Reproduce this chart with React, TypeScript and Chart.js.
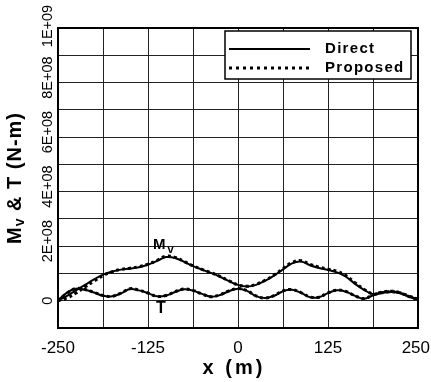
import React, { useEffect, useRef } from 'react';
import { Chart, registerables } from 'chart.js';

Chart.register(...registerables);

const FONT = "'Liberation Sans', Arial, sans-serif";
const UNIT = 1e8;

const xPositions = [
  -250, -237.5, -225, -212.5, -200, -187.5, -175, -162.5, -150, -137.5,
  -125, -112.5, -100, -87.5, -75, -62.5, -50, -37.5, -25, -12.5,
  0, 12.5, 25, 37.5, 50, 62.5, 75, 87.5, 100, 112.5,
  125, 137.5, 150, 162.5, 175, 187.5, 200, 212.5, 225, 237.5, 250,
];

// values in units of 1E+08 N-m
const mvDirect = [
  0.0, 0.18, 0.38, 0.58, 0.78, 0.96, 1.07, 1.14, 1.18, 1.23,
  1.32, 1.46, 1.6, 1.57, 1.43, 1.27, 1.14, 1.02, 0.88, 0.72,
  0.58, 0.52, 0.58, 0.73, 0.92, 1.15, 1.37, 1.44, 1.3, 1.2,
  1.13, 1.04, 0.88, 0.62, 0.4, 0.24, 0.28, 0.32, 0.28, 0.16, 0.06,
];
const mvProposed = [
  0.0, 0.1, 0.28, 0.5, 0.72, 0.92, 1.06, 1.15, 1.19, 1.25,
  1.34, 1.48, 1.63, 1.59, 1.44, 1.28, 1.15, 1.03, 0.89, 0.73,
  0.58, 0.53, 0.6, 0.75, 0.94, 1.18, 1.4, 1.47, 1.33, 1.23,
  1.16, 1.08, 0.92, 0.66, 0.42, 0.25, 0.29, 0.33, 0.29, 0.17, 0.06,
];
const tDirect = [
  0.0, 0.3, 0.44, 0.4, 0.3, 0.18, 0.16, 0.27, 0.43, 0.38,
  0.28, 0.16, 0.19, 0.32, 0.42, 0.37, 0.25, 0.15, 0.21, 0.35,
  0.44, 0.36, 0.17, 0.1, 0.18, 0.35, 0.4, 0.29, 0.13, 0.13,
  0.28, 0.38, 0.33, 0.18, 0.07, 0.2, 0.31, 0.34, 0.28, 0.14, 0.04,
];
const tProposed = [
  0.0, 0.28, 0.45, 0.41, 0.31, 0.19, 0.16, 0.28, 0.44, 0.39,
  0.28, 0.16, 0.19, 0.33, 0.43, 0.38, 0.25, 0.15, 0.22, 0.36,
  0.45, 0.37, 0.18, 0.1, 0.19, 0.36, 0.41, 0.3, 0.14, 0.13,
  0.29, 0.39, 0.34, 0.18, 0.08, 0.21, 0.32, 0.35, 0.29, 0.15, 0.05,
];

const xTickValues = [-250, -125, 0, 125, 250];
const xTickLabels = ['-250', '-125', '0', '125', '250'];
const yTickValues = [0, 2e8, 4e8, 6e8, 8e8, 1e9];
const yTickLabels = ['0', '2E+08', '4E+08', '6E+08', '8E+08', '1E+09'];
const legendLabels = ['Direct', 'Proposed'];

const toPoints = (vals: number[]) => vals.map((v, i) => ({ x: xPositions[i], y: v * UNIT }));

const overlayPlugin = {
  id: 'overlay',
  afterDatasetsDraw(chart: any) {
    const { ctx, chartArea: ca, scales } = chart;
    const xs = scales.x;
    const ys = scales.y;
    ctx.save();
    // frame
    ctx.strokeStyle = '#000';
    ctx.lineWidth = 2;
    ctx.strokeRect(ca.left, ca.top, ca.right - ca.left, ca.bottom - ca.top);

    // legend box
    const bx = ca.right - 193;
    const by = ca.top + 3;
    const bw = 186;
    const bh = 48;
    ctx.fillStyle = '#fff';
    ctx.fillRect(bx, by, bw, bh);
    ctx.lineWidth = 1.5;
    ctx.strokeRect(bx, by, bw, bh);
    ctx.lineWidth = 2;
    ctx.beginPath();
    ctx.moveTo(bx + 4, by + 18);
    ctx.lineTo(bx + 85, by + 18);
    ctx.stroke();
    ctx.lineWidth = 3;
    ctx.setLineDash([3, 4]);
    ctx.beginPath();
    ctx.moveTo(bx + 4, by + 37);
    ctx.lineTo(bx + 85, by + 37);
    ctx.stroke();
    ctx.setLineDash([]);
    ctx.fillStyle = '#000';
    ctx.font = `bold 15px ${FONT}`;
    (ctx as any).letterSpacing = '1.3px';
    ctx.textAlign = 'left';
    ctx.textBaseline = 'middle';
    ctx.fillText(legendLabels[0], bx + 100, by + 18);
    ctx.fillText(legendLabels[1], bx + 100, by + 37);

    // annotations
    (ctx as any).letterSpacing = '0px';
    ctx.textBaseline = 'alphabetic';
    const mx = xs.getPixelForValue(-118);
    const my = ys.getPixelForValue(1.9e8);
    ctx.font = `bold 15px ${FONT}`;
    ctx.fillText('M', mx, my);
    const mw = ctx.measureText('M').width;
    ctx.font = `bold 11px ${FONT}`;
    ctx.fillText('v', mx + mw + 2, my + 4);
    ctx.font = `bold 16px ${FONT}`;
    ctx.textAlign = 'center';
    ctx.fillText('T', xs.getPixelForValue(-107), ys.getPixelForValue(-0.22e8) + 6);
    ctx.restore();
  },
  afterDraw(chart: any) {
    const { ctx, chartArea: ca, scales, width } = chart;
    const xs = scales.x;
    const ys = scales.y;
    ctx.save();
    ctx.fillStyle = '#000';
    // x tick labels
    ctx.font = `17px ${FONT}`;
    ctx.textAlign = 'center';
    ctx.textBaseline = 'middle';
    xTickValues.forEach((v, i) => {
      const w = ctx.measureText(xTickLabels[i]).width;
      let px = xs.getPixelForValue(v);
      if (px + w / 2 > width - 1) px = width - 1 - w / 2;
      ctx.fillText(xTickLabels[i], px, ca.bottom + 20);
    });
    // y tick labels rotated
    ctx.font = `14.5px ${FONT}`;
    yTickValues.forEach((v, i) => {
      const off = v === 0 ? 0 : v === 1e9 ? 2 : 5;
      const py = ys.getPixelForValue(v) - off;
      ctx.save();
      ctx.translate(ca.left - 10, py);
      ctx.rotate(-Math.PI / 2);
      ctx.fillText(yTickLabels[i], 0, 0);
      ctx.restore();
    });
    // y title
    ctx.save();
    ctx.translate(15, (ca.top + ca.bottom) / 2);
    ctx.rotate(-Math.PI / 2);
    (ctx as any).letterSpacing = '1px';
    ctx.textAlign = 'left';
    ctx.textBaseline = 'middle';
    const big = `bold 20px ${FONT}`;
    const small = `bold 14px ${FONT}`;
    ctx.font = big;
    const w1 = ctx.measureText('M').width;
    const w3 = ctx.measureText(' & T (N-m)').width;
    ctx.font = small;
    const w2 = ctx.measureText('v').width;
    const total = w1 + w2 + w3;
    let px = -total / 2;
    ctx.font = big;
    ctx.fillText('M', px, 0);
    px += w1;
    ctx.font = small;
    ctx.fillText('v', px, 5);
    px += w2;
    ctx.font = big;
    ctx.fillText(' & T (N-m)', px, 0);
    ctx.restore();
    // x title
    ctx.font = `bold 20px ${FONT}`;
    (ctx as any).letterSpacing = '3px';
    ctx.textAlign = 'center';
    ctx.textBaseline = 'middle';
    ctx.fillText('x (m)', (ca.left + ca.right) / 2 - 4, 368);
    ctx.restore();
  },
};

export default function App() {
  const ref = useRef<HTMLCanvasElement | null>(null);
  useEffect(() => {
    if (!ref.current) return;
    const chart = new Chart(ref.current, {
      type: 'line',
      data: {
        datasets: [
          {
            label: 'Mv Proposed',
            data: toPoints(mvProposed),
            borderColor: '#000',
            borderWidth: 3,
            borderDash: [3, 3],
            pointRadius: 0,
            tension: 0.4,
            fill: false,
            order: 0,
          },
          {
            label: 'T Proposed',
            data: toPoints(tProposed),
            borderColor: '#000',
            borderWidth: 3,
            borderDash: [3, 3],
            pointRadius: 0,
            tension: 0.4,
            fill: false,
            order: 0,
          },
          {
            label: 'Mv Direct',
            data: toPoints(mvDirect),
            borderColor: '#000',
            borderWidth: 2,
            pointRadius: 0,
            tension: 0.4,
            fill: false,
            order: 1,
          },
          {
            label: 'T Direct',
            data: toPoints(tDirect),
            borderColor: '#000',
            borderWidth: 2,
            pointRadius: 0,
            tension: 0.4,
            fill: false,
            order: 1,
          },
        ],
      },
      options: {
        animation: false,
        responsive: false,
        maintainAspectRatio: false,
        layout: { padding: { left: 0, right: 13, top: 28, bottom: 0 } },
        plugins: { legend: { display: false }, tooltip: { enabled: false } },
        scales: {
          x: {
            type: 'linear',
            min: -250,
            max: 250,
            afterFit: (s: any) => {
              s.height = 54;
              s.paddingLeft = 0;
              s.paddingRight = 0;
            },
            ticks: { stepSize: 62.5, display: false },
            grid: { color: '#222', lineWidth: 1, drawTicks: false },
            border: { display: false },
          },
          y: {
            type: 'linear',
            min: -1e8,
            max: 1e9,
            afterFit: (s: any) => {
              s.width = 58;
            },
            ticks: { stepSize: 1e8, display: false },
            grid: { color: '#222', lineWidth: 1, drawTicks: false },
            border: { display: false },
          },
        },
      },
      plugins: [overlayPlugin],
    });
    return () => chart.destroy();
  }, []);
  return (
    <div style={{ position: 'fixed', left: 0, top: 0, width: 431, height: 382, background: '#fff' }}>
      <canvas ref={ref} width={431} height={382} style={{ display: 'block', width: 431, height: 382 }} />
    </div>
  );
}
